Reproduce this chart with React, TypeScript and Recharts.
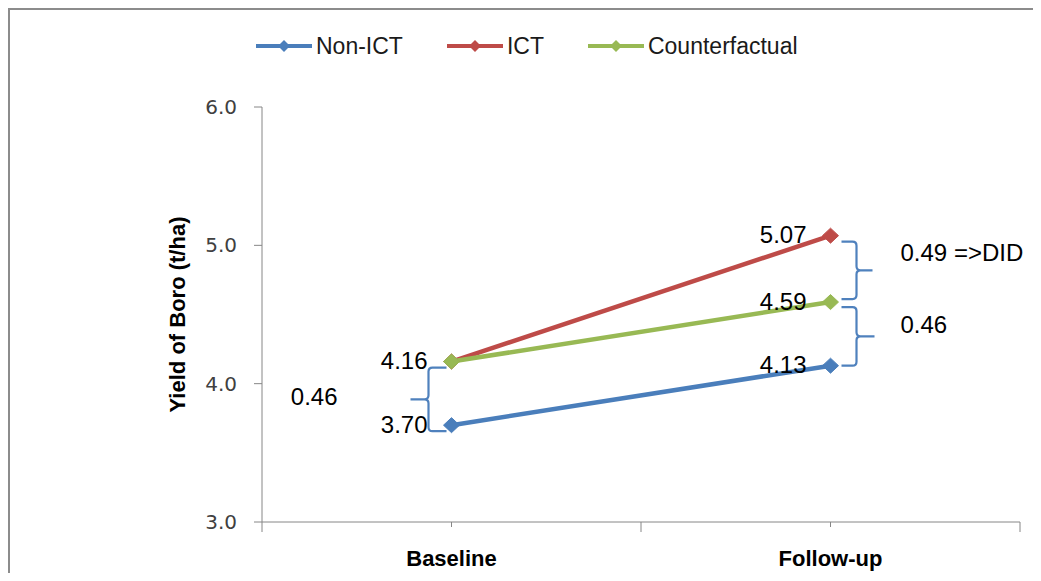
import React from 'react';
import {
  LineChart,
  Line,
  XAxis,
  YAxis,
  Legend,
  LabelList,
  ReferenceLine,
} from 'recharts';

// Boro yield (t/ha) for the two survey rounds
const categories = ['Baseline', 'Follow-up'];
const nonIct = [3.7, 4.13];
const ict = [4.16, 5.07];
const counterfactual = [4.16, 4.59];
// ICT baseline coincides with the counterfactual, so only one label is shown there
const ictLabelShown = [false, true];
const yTicks = [3, 4, 5, 6];
const xTicks = [0, 0.5, 1, 1.5, 2];

const BLUE = '#4A7EBB';
const RED = '#BE4B48';
const GREEN = '#98B954';
const BRACE = '#4F81BD';
const AXIS = '#868686';
const FONT = '"Liberation Sans", Arial, sans-serif';

const data = categories.map((name, i) => ({
  pos: i + 0.5,
  name,
  nonIct: nonIct[i],
  ict: ict[i],
  counterfactual: counterfactual[i],
}));

const series = [
  { key: 'nonIct', name: 'Non-ICT', color: BLUE },
  { key: 'ict', name: 'ICT', color: RED },
  { key: 'counterfactual', name: 'Counterfactual', color: GREEN },
];

const Diamond = (color: string) => (props: any) => {
  const { cx, cy, index } = props;
  if (cx == null || cy == null) return <g key={`d-${index}`} />;
  return (
    <polygon
      key={`d-${index}`}
      points={`${cx},${cy - 7.5} ${cx + 8},${cy} ${cx},${cy + 7.5} ${cx - 8},${cy}`}
      fill={color}
      stroke={color}
      strokeWidth={1}
    />
  );
};

const valueLabel = (shown?: boolean[]) => (props: any) => {
  const { x, y, value, index } = props;
  if (shown && !shown[index]) return null;
  return (
    <text
      x={x - 24}
      y={y - 1}
      textAnchor="end"
      dominantBaseline="central"
      fontFamily={FONT}
      fontSize={24}
      fill="#000"
    >
      {Number(value).toFixed(2)}
    </text>
  );
};

const XTick = (props: any) => {
  const { x, y, payload } = props;
  const v = payload.value as number;
  const isCenter = Math.abs(v - Math.round(v)) > 0.01;
  const label = isCenter ? categories[Math.floor(v)] : null;
  return (
    <g>
      <line x1={x} y1={y} x2={x} y2={y + (isCenter ? 5 : 10)} stroke={AXIS} strokeWidth={1} />
      {label && (
        <text
          x={x}
          y={y + 36}
          textAnchor="middle"
          dominantBaseline="central"
          fontFamily={FONT}
          fontWeight="bold"
          fontSize={22}
          fill="#000"
        >
          {label}
        </text>
      )}
    </g>
  );
};

type BraceOpts = {
  start: number; // offset of the hook ends from the category point
  vert: number; // offset of the vertical stroke
  tip: number; // offset of the pointed middle
  inset: [number, number];
  text: string;
  textDx: number;
  textDy: number;
};

const makeBrace = (o: BraceOpts) => (props: any) => {
  const { x1, y1, y2 } = props;
  const top = y1 + o.inset[0];
  const bot = y2 + o.inset[1];
  const mid = (top + bot) / 2;
  const x0 = x1 + o.start;
  const xv = x1 + o.vert;
  const xt = x1 + o.tip;
  const s = Math.sign(o.tip - o.vert);
  const r = 4;
  const d = [
    `M ${x0} ${top}`,
    `L ${xv - s * r} ${top}`,
    `Q ${xv} ${top} ${xv} ${top + r}`,
    `L ${xv} ${mid - r}`,
    `Q ${xv} ${mid} ${xv + s * r} ${mid}`,
    `L ${xt} ${mid}`,
    `M ${xv + s * r} ${mid}`,
    `Q ${xv} ${mid} ${xv} ${mid + r}`,
    `L ${xv} ${bot - r}`,
    `Q ${xv} ${bot} ${xv - s * r} ${bot}`,
    `L ${x0} ${bot}`,
  ].join(' ');
  return (
    <g>
      <path d={d} fill="none" stroke={BRACE} strokeWidth={2.2} />
      <text
        x={xt + o.textDx}
        y={mid + o.textDy}
        textAnchor={s > 0 ? 'start' : 'end'}
        dominantBaseline="central"
        fontFamily={FONT}
        fontSize={24}
        fill="#000"
      >
        {o.text}
      </text>
    </g>
  );
};

const LegendContent = () => (
  <div style={{ display: 'flex', alignItems: 'center', fontFamily: FONT, fontSize: 23, color: '#1a1a1a' }}>
    {series.map((s, i) => (
      <div key={s.key} style={{ display: 'flex', alignItems: 'center', marginLeft: i === 0 ? 0 : 44 }}>
        <svg width={56} height={20} style={{ display: 'block' }}>
          <line x1={0} y1={10} x2={56} y2={10} stroke={s.color} strokeWidth={4} />
          <polygon points="28,4 34,10 28,16 22,10" fill={s.color} />
        </svg>
        <span style={{ marginLeft: 4, lineHeight: '36px' }}>{s.name}</span>
      </div>
    ))}
  </div>
);

export default function App() {
  return (
    <div
      style={{
        position: 'relative',
        width: 1041,
        height: 581,
        margin: -8,
        overflow: 'hidden',
        background: '#fff',
      }}
    >
      <div
        style={{
          position: 'absolute',
          left: 8,
          top: 8,
          width: 1100,
          height: 700,
          border: '2px solid #8c8c8c',
          boxSizing: 'border-box',
        }}
      />
      <LineChart
        width={1041}
        height={581}
        data={data}
        margin={{ top: 71, right: 21, bottom: 0, left: 0 }}
        style={{ position: 'absolute', left: 0, top: 0 }}
      >
        <XAxis
          dataKey="pos"
          type="number"
          domain={[0, 2]}
          ticks={xTicks}
          interval={0}
          height={59}
          tickSize={0}
          tickMargin={0}
          tickLine={false}
          axisLine={{ stroke: AXIS, strokeWidth: 1 }}
          tick={<XTick />}
        />
        <YAxis
          type="number"
          domain={[3, 6]}
          ticks={yTicks}
          width={262}
          tickSize={8}
          tickMargin={17}
          tickFormatter={(v: number) => v.toFixed(1)}
          axisLine={{ stroke: AXIS, strokeWidth: 1 }}
          tickLine={{ stroke: AXIS, strokeWidth: 1 }}
          tick={{ fill: '#404040', fontSize: 20, fontFamily: '"DejaVu Sans", sans-serif' }}
          label={{
            value: 'Yield of Boro (t/ha)',
            angle: -90,
            position: 'center',
            dx: 46,
            style: { fontFamily: FONT, fontWeight: 'bold', fontSize: 22, fill: '#000', textAnchor: 'middle' },
          }}
        />
        <Legend
          verticalAlign="top"
          content={<LegendContent />}
          wrapperStyle={{ top: 28, left: 256, width: 700, height: 36 }}
        />
        {series.map((s) => (
          <Line
            key={s.key}
            dataKey={s.key}
            name={s.name}
            stroke={s.color}
            strokeWidth={4.5}
            dot={Diamond(s.color)}
            activeDot={false}
            isAnimationActive={false}
          >
            <LabelList
              dataKey={s.key}
              content={valueLabel(s.key === 'ict' ? ictLabelShown : undefined)}
            />
          </Line>
        ))}
        <ReferenceLine
          segment={[
            { x: data[0].pos, y: counterfactual[0] },
            { x: data[0].pos, y: nonIct[0] },
          ]}
          ifOverflow="visible"
          shape={makeBrace({ start: -5, vert: -23, tip: -41, inset: [6, 6], text: '0.46', textDx: -73, textDy: -3 })}
        />
        <ReferenceLine
          segment={[
            { x: data[1].pos, y: ict[1] },
            { x: data[1].pos, y: counterfactual[1] },
          ]}
          ifOverflow="visible"
          shape={makeBrace({ start: 11, vert: 26, tip: 42, inset: [6, -3], text: '0.49 =>DID', textDx: 28, textDy: -18 })}
        />
        <ReferenceLine
          segment={[
            { x: data[1].pos, y: counterfactual[1] },
            { x: data[1].pos, y: nonIct[1] },
          ]}
          ifOverflow="visible"
          shape={makeBrace({ start: 11, vert: 26, tip: 44, inset: [5, 0], text: '0.46', textDx: 26, textDy: -12 })}
        />
      </LineChart>
    </div>
  );
}
